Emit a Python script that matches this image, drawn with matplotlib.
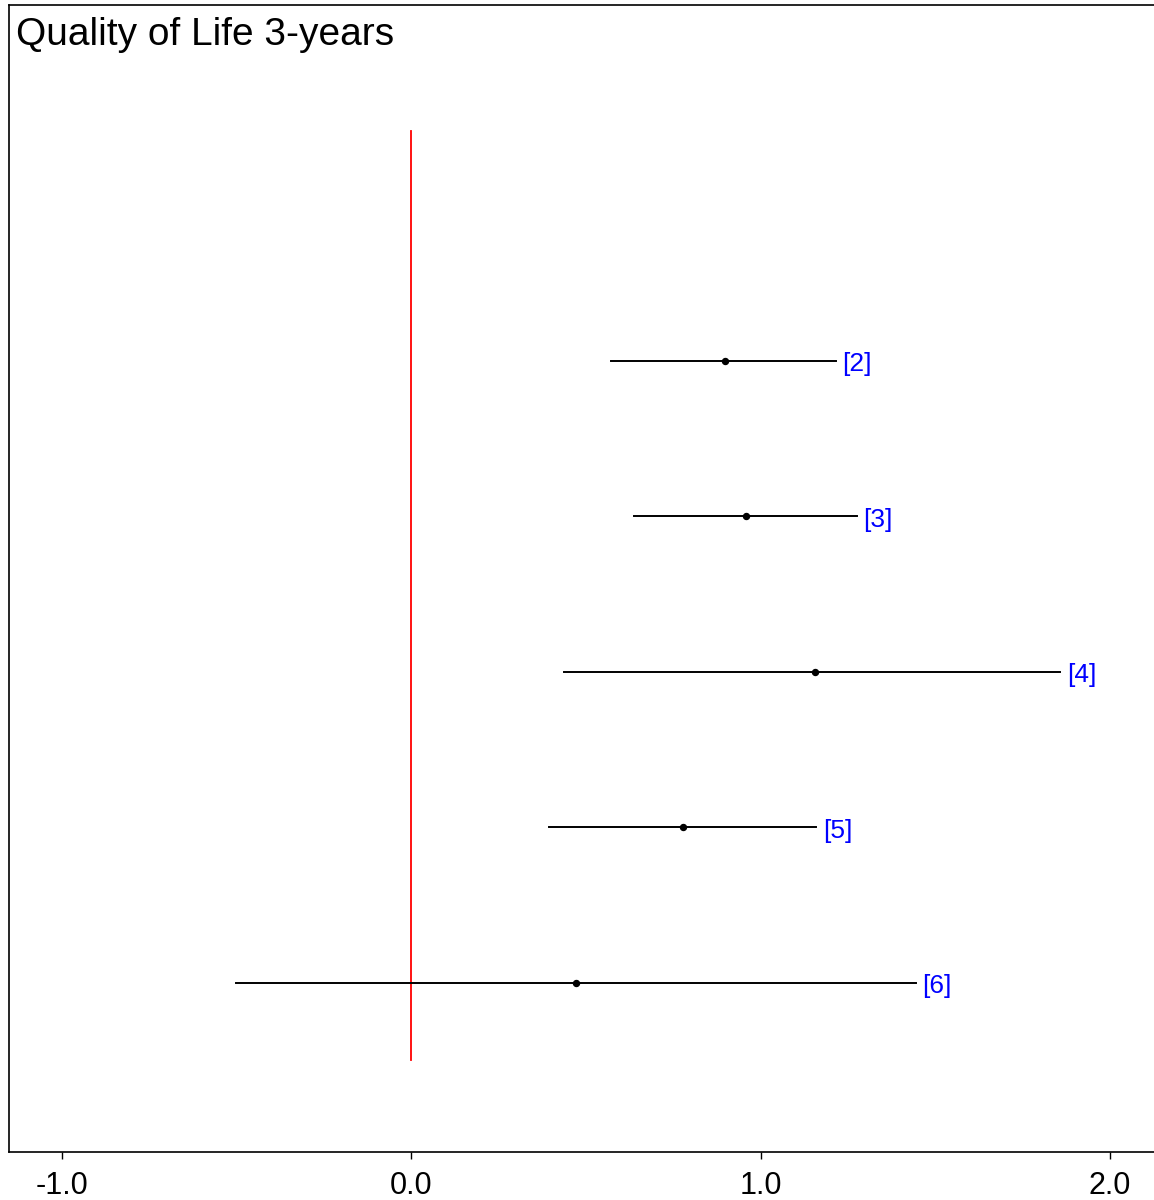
import numpy as np
import matplotlib as mpl
mpl.use('Agg')
from matplotlib import pyplot as plt

plt.rcParams['font.family'] = ['Liberation Sans', 'DejaVu Sans']

# forest plot data (estimate with lower / upper bound)
labels = ['[2]', '[3]', '[4]', '[5]', '[6]']
rows = [2, 3, 4, 5, 6]
est = [0.897, 0.957, 1.155, 0.777, 0.473]
low = [0.573, 0.639, 0.438, 0.393, -0.501]
high = [1.215, 1.275, 1.857, 1.158, 1.444]
xticks = [-1.0, 0.0, 1.0, 2.0]
title = 'Quality of Life 3-years'

fig = plt.figure(figsize=(11.54, 12), dpi=100)
ax = fig.add_axes([9 / 1154, 48 / 1200, 1 - 9 / 1154 + 0.001, 1 - 53 / 1200])

# reference line at zero
ax.plot([0, 0], [0.52, 6.5], color='red', lw=1.3, zorder=2)

for r, e, lo, hi, lab in zip(rows, est, low, high, labels):
    ax.plot([lo, hi], [r, r], color='black', lw=1.4, zorder=3)
    ax.plot(e, r, 'o', color='black', ms=4.3, zorder=4)
    ax.annotate(lab, xy=(hi, r), xytext=(5, -2.5), textcoords='offset points',
                color='blue', fontsize=19, va='center', ha='left')

ax.set_xlim(-1.152, 2.13)
ax.set_ylim(7.09, -0.29)
ax.set_xticks(xticks)
ax.set_xticklabels(['%.1f' % t for t in xticks], fontsize=22)
ax.set_yticks([])
ax.tick_params(axis='x', direction='out', length=5, width=1, pad=9)
for s in ax.spines.values():
    s.set_linewidth(1.2)

ax.annotate(title, xy=(0, 1), xycoords='axes fraction', xytext=(5, -8.5),
            textcoords='offset points', fontsize=28, va='top', ha='left')

fig.savefig('out.png', dpi=100)
